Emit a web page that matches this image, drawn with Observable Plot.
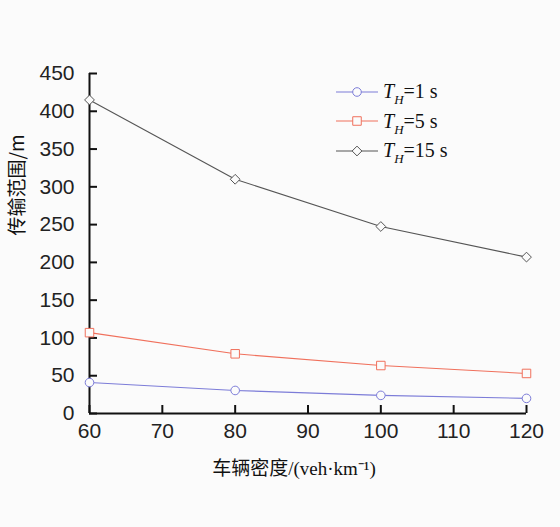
<!DOCTYPE html>
<html>
<head>
<meta charset="utf-8">
<script src="https://cdn.jsdelivr.net/npm/d3@7"></script>
<script src="https://cdn.jsdelivr.net/npm/@observablehq/plot@0.6"></script>
<style>
  html, body { margin: 0; padding: 0; background: #fbfbfb; }
  #wrap { position: relative; width: 560px; height: 527px; background: #fbfbfb; }
  #legend { position: absolute; left: 336px; top: 77px; font-family: "Liberation Serif", serif; font-size: 20px; color: #111; }
  .row { display: flex; align-items: center; height: 29.5px; }
  .row svg { width: 42px; height: 20px; margin-right: 5px; }
  .sub { font-size: 13px; position: relative; top: 6px; font-style: italic; }
</style>
</head>
<body>
<div id="wrap"><div id="legend"></div></div>
<script>
const density = [60, 80, 100, 120];
const range1 = [41, 30.5, 24, 20];
const range5 = [107, 79, 63.5, 53];
const range15 = [415, 310, 247.5, 207];
const seriesNames = ["1", "5", "15"];
const seriesColors = ["#7c7cd8", "#f0705c", "#555555"];
const seriesSymbols = ["circle", "square", "diamond2"];
const xTicks = [60, 70, 80, 90, 100, 110, 120];
const yTicks = [0, 50, 100, 150, 200, 250, 300, 350, 400, 450];
const xLabel = "车辆密度/(veh·km⁻¹)";
const yLabel = "传输范围/m";

const seriesValues = [range1, range5, range15];
const seriesR = [4.3, 4.8, 4.4];
const rows = seriesValues.map(vals => density.map((d, i) => ({x: d, y: vals[i]})));

const marks = [];
rows.forEach((r, k) => {
  marks.push(Plot.line(r, {x: "x", y: "y", stroke: seriesColors[k], strokeWidth: 1.1}));
  marks.push(Plot.dot(r, {x: "x", y: "y", symbol: seriesSymbols[k], r: seriesR[k], stroke: seriesColors[k], fill: "#fbfbfb", strokeWidth: 1}));
});

const W = 560, H = 527, ML = 89, MR = 34, MT = 73, MB = 114, TICK = 8;
const chart = Plot.plot({
  width: W, height: H,
  marginLeft: ML, marginRight: MR, marginTop: MT, marginBottom: MB,
  style: {background: "transparent", fontFamily: "'Liberation Sans', sans-serif", fontSize: "21px", color: "#222"},
  x: {domain: [60, 120]},
  y: {domain: [0, 450]},
  marks: [
    Plot.axisX(xTicks, {tickSize: 0, tickPadding: 10, label: null, fontSize: 21}),
    Plot.axisY(yTicks, {tickSize: 0, tickPadding: 15, label: null, fontSize: 21}),
    Plot.tickX(xTicks, {x: d => d, insetTop: (H - MT - MB) - TICK, stroke: "#111", strokeWidth: 2}),
    Plot.tickY(yTicks, {y: d => d, insetRight: (W - ML - MR) - TICK, stroke: "#111", strokeWidth: 2}),
    Plot.ruleX([60], {stroke: "#111", strokeWidth: 2}),
    Plot.ruleY([0], {stroke: "#111", strokeWidth: 2}),
    ...marks,
    Plot.text([yLabel], {frameAnchor: "left", rotate: -90, dx: -72, dy: -8, fontSize: 19, fontFamily: "'Noto Sans CJK SC', sans-serif", fill: "#111"}),
    Plot.text([xLabel], {frameAnchor: "bottom", dx: -14, dy: 61, fontSize: 19, fontFamily: "'Liberation Serif', 'Noto Sans CJK SC', serif", fill: "#111"})
  ]
});
document.getElementById("wrap").prepend(chart);

const legend = document.getElementById("legend");
seriesNames.forEach((name, k) => {
  const row = document.createElement("div");
  row.className = "row";
  const sym = d3.symbol(k === 0 ? d3.symbolCircle : k === 1 ? d3.symbolSquare : d3.symbolDiamond2, Math.PI * seriesR[k] ** 2)();
  row.innerHTML = `<svg viewBox="0 0 42 20"><line x1="0" x2="42" y1="10" y2="10" stroke="${seriesColors[k]}" stroke-width="1.1"/><path d="${sym}" transform="translate(21,10)" fill="#fbfbfb" stroke="${seriesColors[k]}"/></svg><span><i>T</i><span class="sub">H</span>=${name} s</span>`;
  legend.appendChild(row);
});
</script>
</body>
</html>
